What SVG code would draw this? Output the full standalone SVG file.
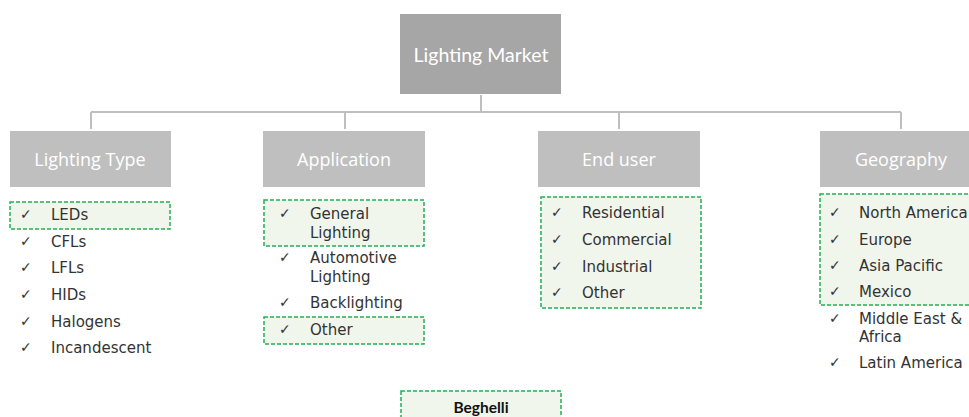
<svg xmlns="http://www.w3.org/2000/svg" width="969" height="417" viewBox="0 0 969 417">
<style>
.top{fill:#a6a6a6}
.cat{fill:#bfbfbf}
.cl{fill:#fff;font-family:"Open Sans",sans-serif;font-size:18px;text-anchor:middle;dominant-baseline:central}
.tl{fill:#fff;font-family:Lato,sans-serif;font-size:19.5px;text-anchor:middle;dominant-baseline:central}
.hl{fill:#f1f6ed;stroke:#1fb155;stroke-width:1.5;stroke-dasharray:4 2}
.it{fill:#333;font-family:"DejaVu Sans",sans-serif;font-size:15px;dominant-baseline:central}
.ck{fill:#333;font-family:"DejaVu Sans",sans-serif;font-size:14px;dominant-baseline:central}
.con{fill:none;stroke:#bfbfbf;stroke-width:2}
.bg{fill:#111;font-family:Lato,sans-serif;font-size:15.5px;font-weight:bold;text-anchor:middle;dominant-baseline:central}
</style>
<rect width="969" height="417" fill="#fff"/>
<g id="connectors">
<path class="con" d="M481 95V112M91 112H901M91 112V129M345 112V129M619 112V129M901 112V129"/>
</g>
<g id="lighting-market">
<rect class="top" x="400" y="14" width="161" height="80"/>
<text class="tl" x="481" y="54">Lighting Market</text>
</g>
<g id="lighting-type">
<rect class="cat" x="10" y="131" width="161" height="56"/>
<text class="cl" x="90" y="159">Lighting Type</text>
<rect class="hl" x="10" y="202" width="160" height="27"/>
<text class="ck" x="20" y="214">✓</text><text class="it" x="51" y="215">LEDs</text>
<text class="ck" x="20" y="241">✓</text><text class="it" x="51" y="242">CFLs</text>
<text class="ck" x="20" y="267">✓</text><text class="it" x="51" y="268">LFLs</text>
<text class="ck" x="20" y="294">✓</text><text class="it" x="51" y="295">HIDs</text>
<text class="ck" x="20" y="321">✓</text><text class="it" x="51" y="322">Halogens</text>
<text class="ck" x="20" y="347">✓</text><text class="it" x="51" y="348">Incandescent</text>
</g>
<g id="application">
<rect class="cat" x="263" y="131" width="162" height="56"/>
<text class="cl" x="344" y="159">Application</text>
<rect class="hl" x="264" y="200" width="160" height="46"/>
<text class="ck" x="279" y="213">✓</text><text class="it" x="310" y="214">General</text>
<text class="it" x="310" y="233">Lighting</text>
<text class="ck" x="279" y="257">✓</text><text class="it" x="310" y="258">Automotive</text>
<text class="it" x="310" y="277">Lighting</text>
<text class="ck" x="279" y="302">✓</text><text class="it" x="310" y="303">Backlighting</text>
<rect class="hl" x="264" y="317" width="160" height="27"/>
<text class="ck" x="279" y="329">✓</text><text class="it" x="310" y="330">Other</text>
</g>
<g id="end-user">
<rect class="cat" x="538" y="131" width="162" height="56"/>
<text class="cl" x="619" y="159">End user</text>
<rect class="hl" x="541" y="197" width="160" height="111"/>
<text class="ck" x="551" y="212">✓</text><text class="it" x="582" y="213">Residential</text>
<text class="ck" x="551" y="239">✓</text><text class="it" x="582" y="240">Commercial</text>
<text class="ck" x="551" y="266">✓</text><text class="it" x="582" y="267">Industrial</text>
<text class="ck" x="551" y="292">✓</text><text class="it" x="582" y="293">Other</text>
</g>
<g id="geography">
<rect class="cat" x="820" y="131" width="160" height="56"/>
<text class="cl" x="901" y="159">Geography</text>
<rect class="hl" x="820" y="194" width="160" height="111"/>
<text class="ck" x="829" y="212">✓</text><text class="it" x="859" y="213">North America</text>
<text class="ck" x="829" y="239">✓</text><text class="it" x="859" y="240">Europe</text>
<text class="ck" x="829" y="265">✓</text><text class="it" x="859" y="266">Asia Pacific</text>
<text class="ck" x="829" y="291">✓</text><text class="it" x="859" y="292">Mexico</text>
<text class="ck" x="829" y="318">✓</text><text class="it" x="859" y="319">Middle East &amp;</text>
<text class="it" x="859" y="337">Africa</text>
<text class="ck" x="829" y="362">✓</text><text class="it" x="859" y="363">Latin America</text>
</g>
<g id="beghelli">
<rect class="hl" x="401" y="391" width="160" height="40"/>
<text class="bg" x="481" y="407">Beghelli</text>
</g>
</svg>
